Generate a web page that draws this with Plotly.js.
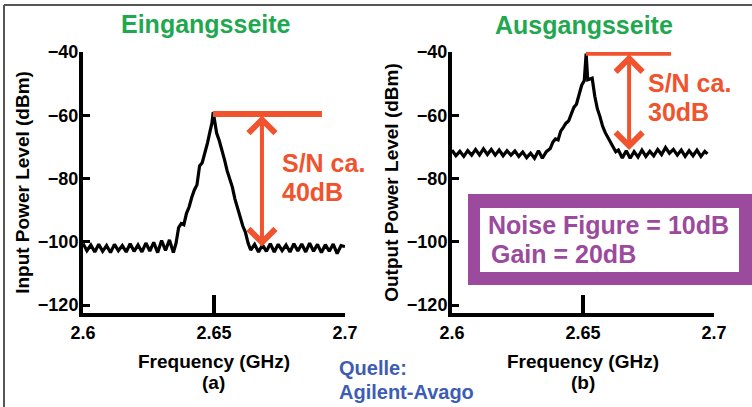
<!DOCTYPE html>
<html>
<head>
<meta charset="utf-8">
<script src="https://cdn.plot.ly/plotly-3.0.1.min.js"></script>
<style>html,body{margin:0;padding:0;background:#fff;}#chart{width:752px;height:407px;}</style>
</head>
<body>
<div id="chart"></div>
<script>
// ---------- data ----------
const freqIn = [2.6000,2.6015,2.6030,2.6045,2.6060,2.6075,2.6090,2.6105,2.6120,2.6135,2.6150,2.6165,2.6180,2.6195,2.6210,2.6225,2.6240,2.6255,2.6270,2.6285,2.6300,2.6315,2.6330,2.6345,
  2.6355,2.6365,2.6375,2.6385,2.6395,2.6405,2.6415,2.6425,2.6435,2.6445,2.6455,2.6465,2.6475,2.6485,2.6492,2.6497,
  2.6503,2.6510,2.6520,2.6530,2.6540,2.6550,2.6560,2.6570,2.6580,2.6590,2.6600,2.6610,2.6620,2.6630,2.6640,
  2.6655,2.6670,2.6685,2.6700,2.6715,2.6730,2.6745,2.6760,2.6775,2.6790,2.6805,2.6820,2.6835,2.6850,2.6865,2.6880,2.6895,2.6910,2.6925,2.6940,2.6955,2.6970,2.6985,2.7000];
const powerIn = [-100.5,-102.8,-101,-103.2,-100.8,-103,-101.2,-103.4,-100.8,-102.8,-101.2,-103.2,-100.6,-103,-101,-103.2,-100.4,-102.9,-100.2,-103.4,-99.6,-102.7,-99.4,-103.4,
  -100.5,-95.5,-94.2,-94.6,-91,-89,-86,-83.6,-82,-76,-75,-72,-68.8,-65,-62.5,-59,
  -62,-65.6,-68,-70.8,-74,-77.5,-80,-82.7,-86.5,-89.5,-92.5,-95,-97,-100.4,-102.6,
  -100.8,-103.2,-101,-103,-100.6,-103.2,-100.8,-102.8,-101,-103.2,-100.6,-102.9,-100.7,-103.2,-100.4,-103,-100.8,-103.4,-100.9,-103,-100.7,-103.7,-101.2,-101.5];

const freqOut = [2.6000,2.6015,2.6030,2.6045,2.6060,2.6075,2.6090,2.6105,2.6120,2.6135,2.6150,2.6165,2.6180,2.6195,2.6210,2.6225,2.6240,2.6255,2.6270,2.6285,2.6300,2.6315,2.6330,2.6345,2.6360,
  2.6375,2.6385,2.6395,2.6405,2.6415,2.6425,2.6435,2.6445,2.6455,2.6465,2.6475,2.6485,2.6495,2.6505,2.6512,2.6518,2.6528,2.6535,2.6545,2.6555,2.6565,2.6575,2.6585,2.6595,2.6605,2.6615,2.6625,2.6635,
  2.6650,2.6665,2.6680,2.6695,2.6710,2.6725,2.6740,2.6755,2.6770,2.6785,2.6800,2.6815,2.6830,2.6845,2.6860,2.6875,2.6890,2.6905,2.6920,2.6935,2.6950,2.6965,2.6975];
const powerOut = [-71,-72.8,-71.4,-73,-71.2,-72.6,-70.8,-72.5,-70.6,-72.4,-70.8,-72.6,-71,-72.8,-71.2,-72.6,-71.3,-73,-71.6,-73.4,-72,-73.6,-71.2,-73.6,-71.5,
  -70.5,-68.5,-67.5,-67.8,-65,-63.8,-62.5,-61.8,-59.5,-57.5,-56.5,-53.5,-50.5,-49,-40.5,-48.8,-48.5,-48.3,-54,-58,-60.5,-63.5,-65.5,-67,-68.5,-69.5,-71.5,-71,
  -73.5,-71.2,-73.6,-71.5,-73.2,-71,-73,-71.4,-72.8,-70.8,-72.4,-70.2,-72,-70.8,-72.6,-71,-73,-71.2,-72.8,-71,-73,-71.4,-72.2];

const xTickVals = [2.6, 2.65, 2.7];
const xTickText = ['2.6', '2.65', '2.7'];
const yTickVals = [-40, -60, -80, -100, -120];

// S/N markers (dB levels)
const snIn = {peak: -59.6, floor: -101.5, xLine: [2.6496, 2.6912], xArrow: 2.6683};
const snOut = {peak: -40.2, floor: -71, xLine: [2.6511, 2.6836], xArrow: 2.6676};

// ---------- styling ----------
const W = 752, H = 407;
const px = v => v / W;
const py = v => (H - v) / H;
const COND = "'Liberation Sans', Arial, Helvetica, sans-serif";
const BOLD = "'Liberation Sans', Arial, Helvetica, sans-serif";
const RED = '#f0532d', GREEN = '#1fa84f', PURPLE = '#9b4a9d', BLUE = '#3d5db5';

const lineStyle = {color: '#000', width: 3.2};
const traces = [
  {x: freqIn, y: powerIn, type: 'scatter', mode: 'lines', line: lineStyle, xaxis: 'x', yaxis: 'y', hoverinfo: 'skip'},
  {x: freqOut, y: powerOut, type: 'scatter', mode: 'lines', line: lineStyle, xaxis: 'x2', yaxis: 'y2', hoverinfo: 'skip'}
];

const yDomain = [py(313), py(52)];
function xAx(domain, anchor) {
  return {
    domain: domain, anchor: anchor, range: [2.6, 2.7], tickvals: xTickVals, ticktext: xTickText,
    ticks: 'inside', ticklen: 18, tickwidth: 4, tickcolor: '#000',
    showline: true, linewidth: 4, linecolor: '#000', showgrid: false, zeroline: false,
    tickfont: {family: COND, size: 18, color: '#000', weight: 'bold'},
    title: {text: 'Frequency (GHz)', font: {family: COND, size: 19, color: '#000', weight: 'bold'}, standoff: 14},
    fixedrange: true
  };
}
function yAx(anchor, label) {
  return {
    domain: yDomain, anchor: anchor, range: [-122.5, -40], tickvals: yTickVals,
    ticks: 'inside', ticklen: 7, tickwidth: 3, tickcolor: '#000',
    showline: true, linewidth: 4, linecolor: '#000', showgrid: false, zeroline: false,
    tickfont: {family: COND, size: 18, color: '#000', weight: 'bold'},
    ticklabelstandoff: -3,
    title: {text: label, font: {family: COND, size: 19, color: '#000', weight: 'bold'}, standoff: 4},
    fixedrange: true
  };
}

function txt(text, x, y, font, xanchor) {
  return {text: text, x: px(x), y: py(y), xref: 'paper', yref: 'paper', showarrow: false,
          xanchor: xanchor || 'left', yanchor: 'middle', font: font};
}
const redFont = {family: BOLD, size: 25, color: RED, weight: 'bold'};
const purpleFont = {family: BOLD, size: 25, color: PURPLE, weight: 'bold'};
const greenFont = {family: BOLD, size: 25, color: GREEN, weight: 'bold'};
const blueFont = {family: BOLD, size: 20, color: BLUE, weight: 'bold'};
const subFont = {family: COND, size: 19, color: '#000', weight: 'bold'};

function arrow(sn, xr, yr) {
  return {text: '', x: sn.xArrow, y: sn.floor, ax: sn.xArrow, ay: sn.peak,
    xref: xr, yref: yr, axref: xr, ayref: yr, showarrow: true,
    arrowside: 'end+start', arrowhead: 4, startarrowhead: 4, arrowsize: 1.3, startarrowsize: 1.3,
    arrowwidth: 4, arrowcolor: RED, standoff: 0, startstandoff: 0};
}

const annotations = [
  txt('Eingangsseite', 206, 24, greenFont, 'center'),
  txt('Ausgangsseite', 584, 25, greenFont, 'center'),
  txt('S/N ca.', 280, 163, redFont),
  txt('40dB', 280, 192, redFont),
  txt('S/N ca.', 646, 83, redFont),
  txt('30dB', 646, 112, redFont),
  txt('Noise Figure = 10dB', 486, 225, purpleFont),
  txt('Gain = 20dB', 489, 254, purpleFont),
  txt('Quelle:', 337, 368, blueFont),
  txt('Agilent-Avago', 337, 392, blueFont),
  txt('(a)', 213, 382, subFont, 'center'),
  txt('(b)', 583, 382, subFont, 'center'),
  arrow(snIn, 'x', 'y'),
  arrow(snOut, 'x2', 'y2')
];

const shapes = [
  {type: 'line', xref: 'x', yref: 'y', x0: snIn.xLine[0], x1: snIn.xLine[1], y0: snIn.peak, y1: snIn.peak, line: {color: RED, width: 6}},
  {type: 'line', xref: 'x2', yref: 'y2', x0: snOut.xLine[0], x1: snOut.xLine[1], y0: snOut.peak, y1: snOut.peak, line: {color: RED, width: 6}},
  {type: 'rect', xref: 'paper', yref: 'paper', x0: px(468), x1: px(760), y0: py(285), y1: py(194), fillcolor: PURPLE, line: {width: 0}, layer: 'above'},
  {type: 'rect', xref: 'paper', yref: 'paper', x0: px(480), x1: px(739), y0: py(272), y1: py(208), fillcolor: '#fff', line: {width: 0}, layer: 'above'},
  {type: 'line', xref: 'paper', yref: 'paper', x0: px(4), x1: px(760), y0: py(5), y1: py(5), line: {color: '#555', width: 2}},
  {type: 'line', xref: 'paper', yref: 'paper', x0: px(4), x1: px(4), y0: py(5), y1: py(420), line: {color: '#555', width: 2}}
];

const layout = {
  width: W, height: H, margin: {l: 0, r: 0, t: 0, b: 0},
  paper_bgcolor: '#fff', plot_bgcolor: '#fff', showlegend: false,
  xaxis: xAx([px(83), px(345)], 'y'),
  yaxis: yAx('x', 'Input Power Level (dBm)'),
  xaxis2: xAx([px(452), px(714)], 'y2'),
  yaxis2: yAx('x2', 'Output Power Level (dBm)'),
  annotations: annotations, shapes: shapes
};

Plotly.newPlot('chart', traces, layout, {staticPlot: true, displayModeBar: false});
</script>
</body>
</html>
